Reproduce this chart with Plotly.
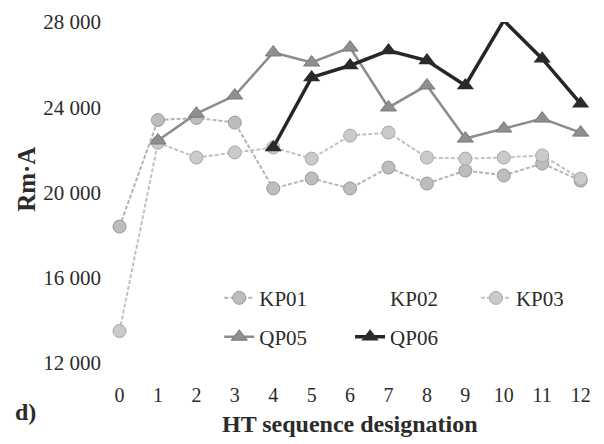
import plotly.graph_objects as go

# ---- data ----
x_steps = list(range(13))
kp01 = [18400, 23400, 23500, 23280, 20190, 20660, 20190, 21170, 20420, 21030, 20800, 21360, 20560]
kp02_x = [None]
kp02 = [None]
kp03 = [13500, 22340, 21640, 21880, 22110, 21590, 22670, 22810, 21640, 21590, 21640, 21740, 20650]
qp05_x = list(range(1, 13))
qp05 = [22440, 23700, 24550, 26570, 26100, 26800, 23990, 25020, 22530, 23000, 23470, 22810]
qp06_x = list(range(4, 13))
qp06 = [22110, 25400, 25960, 26660, 26190, 25020, 28070, 26280, 24170]
y_tickvals = [12000, 16000, 20000, 24000, 28000]
y_ticktext = ["12 000", "16 000", "20 000", "24 000", "28 000"]
x_tickvals = list(range(13))

FONT = "Liberation Serif, Times New Roman, serif"

fig = go.Figure()
fig.add_trace(go.Scatter(
    x=x_steps, y=kp01, name="KP01", mode="lines+markers", legend="legend",
    line=dict(color="#b4b4b4", width=2, dash="4px,2px"),
    marker=dict(symbol="circle", size=13, color="#bdbdbd", line=dict(color="#9a9a9a", width=1)),
    cliponaxis=False))
fig.add_trace(go.Scatter(
    x=kp02_x, y=kp02, name="KP02", mode="lines", legend="legend2",
    line=dict(color="rgba(255,255,255,0)", width=2)))
fig.add_trace(go.Scatter(
    x=x_steps, y=kp03, name="KP03", mode="lines+markers", legend="legend3",
    line=dict(color="#c2c2c2", width=2, dash="4px,2px"),
    marker=dict(symbol="circle", size=13, color="#cacaca", line=dict(color="#a8a8a8", width=1)),
    cliponaxis=False))
fig.add_trace(go.Scatter(
    x=qp05_x, y=qp05, name="QP05", mode="lines+markers", legend="legend4",
    line=dict(color="#8c8c8c", width=2.5),
    marker=dict(symbol="triangle-up", size=14, color="#8f8f8f", line=dict(color="#7a7a7a", width=1)),
    cliponaxis=False))
fig.add_trace(go.Scatter(
    x=qp06_x, y=qp06, name="QP06", mode="lines+markers", legend="legend5",
    line=dict(color="#262626", width=3.5),
    marker=dict(symbol="triangle-up", size=15, color="#2a2a2a"),
    cliponaxis=False))


def leg(x, y):
    return dict(orientation="h", x=x, xanchor="left", y=y, yanchor="middle",
                bgcolor="rgba(0,0,0,0)", font=dict(size=21))


fig.update_layout(
    width=604, height=444,
    margin=dict(l=108, r=8, t=22, b=81),
    paper_bgcolor="white", plot_bgcolor="white",
    font=dict(family=FONT, size=21, color="#2b2b2b"),
    xaxis=dict(range=[-0.3, 12.4], tickvals=x_tickvals, showgrid=False, zeroline=False,
               showline=False, ticklabelstandoff=18, tickfont=dict(size=20)),
    yaxis=dict(range=[12000, 28000], tickvals=y_tickvals, ticktext=y_ticktext,
               showgrid=False, zeroline=False, showline=False, tickfont=dict(size=21),
               ticklabelstandoff=6),
    legend=leg(0.228, 0.19),
    legend2=leg(0.496, 0.19),
    legend3=leg(0.754, 0.19),
    legend4=leg(0.228, 0.076),
    legend5=leg(0.496, 0.076),
    showlegend=True,
    annotations=[
        dict(text="<b>Rm·A</b>", x=-0.166, y=0.54, xref="paper", yref="paper",
             textangle=-90, showarrow=False, font=dict(size=25, family=FONT, color="#2b2b2b"),
             xanchor="center", yanchor="middle"),
        dict(text="<b>d)</b>", x=-0.17, y=-0.144, xref="paper", yref="paper",
             showarrow=False, font=dict(size=24, family=FONT, color="#2b2b2b"),
             xanchor="center", yanchor="middle"),
        dict(text="<b>HT sequence designation</b>", x=0.496, y=-0.179, xref="paper", yref="paper",
             showarrow=False, font=dict(size=24, family=FONT, color="#2b2b2b"),
             xanchor="center", yanchor="middle"),
    ],
)

fig.write_html("out.html")
